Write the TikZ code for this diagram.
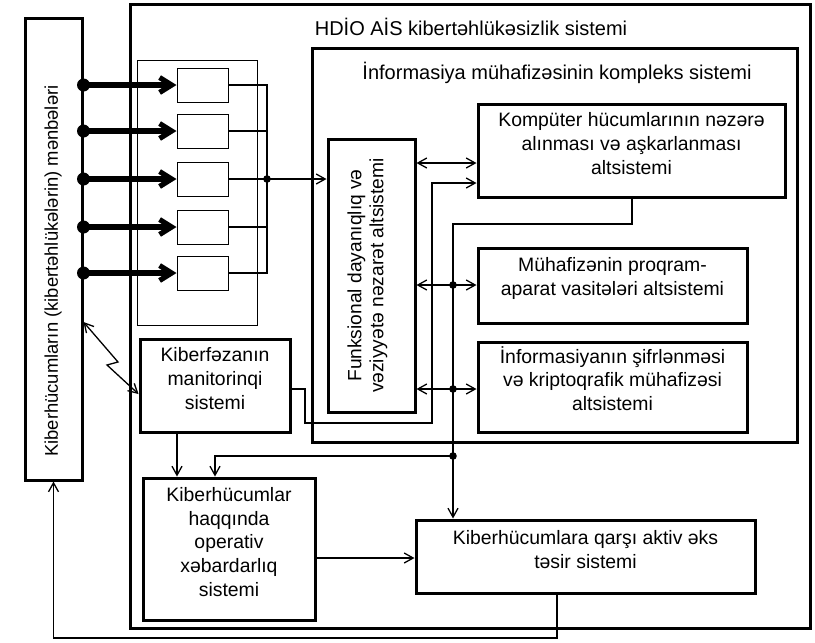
\documentclass[tikz,border=0pt]{standalone}
\usepackage{fontspec}
\setmainfont{Liberation Sans}
\usetikzlibrary{arrows.meta,fit,calc}
\begin{document}
\begin{tikzpicture}[x=0.5pt,y=-0.5pt,
  thickbox/.style={draw, line width=1.5pt, inner sep=0pt, align=center},
  thinbox/.style={draw, line width=0.5pt, inner sep=0pt},
  conn/.style={line width=0.65pt},
  arr/.style={conn, -{Straight Barb[length=4.5pt,width=5pt]}},
  darr/.style={conn, {Straight Barb[length=4.5pt,width=5pt]}-{Straight Barb[length=4.5pt,width=5pt]}},
  fatarr/.style={line width=2.6pt, -{Straight Barb[length=6pt,width=7.5pt]}},
  bigdot/.style={circle, fill, inner sep=0pt, minimum size=6.5pt},
  jdot/.style={circle, fill, inner sep=0pt, minimum size=3.8pt},
  titlefont/.style={font=\fontsize{10}{12}\selectfont},
  font=\fontsize{9.7}{11.8}\selectfont]
\useasboundingbox (0,0) rectangle (815,643);

% boxes
\node[thickbox, fit={(25,18)(82,480)}] (src) {};
\node[rotate=90, font=\fontsize{9.2}{11}\selectfont] at (53,271) {Kiberhücumların (kibertəhlükələrin) mənbələri};
\node[thickbox, fit={(130,4)(810,628)}] (outer) {};
\node[titlefont] at (471,27) {HDİO AİS kibertəhlükəsizlik sistemi};
\node[thinbox, fit={(137,60)(257,325)}] (grp) {};
\foreach \i/\y in {1/85,2/131,3/179,4/227,5/273}
  \node[thinbox, minimum width=25.5pt, minimum height=17pt] (b\i) at (202.5,\y) {};
\node[thickbox, fit={(312,48)(797,442)}] (kompl) {};
\node[titlefont] at (557,73) {İnformasiya mühafizəsinin kompleks sistemi};
\node[thickbox, fit={(328,139)(415,412)}] (funk) {};
\node[rotate=90, align=center, font=\fontsize{9.6}{11}\selectfont] at ($(funk.center)+(-4,0)$) {Funksional dayanıqlıq və\\vəziyyətə nəzarət altsistemi};
\node[thickbox, fit={(478,104)(785,197)}] (kom) {Kompüter hücumlarının nəzərə\\alınması və aşkarlanması\\altsistemi};
\node[thickbox, fit={(478,248)(747,323)}] (muh) {Mühafizənin proqram-\\aparat vasitələri altsistemi};
\node[thickbox, fit={(478,342)(747,432)}] (sif) {İnformasiyanın şifrlənməsi\\və kriptoqrafik mühafizəsi\\altsistemi};
\node[thickbox, fit={(140,339)(290,432)}] (mon) {Kiberfəzanın\\manitorinqi\\sistemi};
\node[thickbox, fit={(143,478)(315,620)}] (hab) {Kiberhücumlar\\haqqında\\operativ\\xəbardarlıq\\sistemi};
\node[thickbox, fit={(416,520)(755,593)}] (akt) {Kiberhücumlara qarşı aktiv əks\\təsir sistemi};

% sources -> small boxes
\foreach \i in {1,...,5} {
  \node[bigdot] (d\i) at (src.east |- b\i) {};
  \draw[fatarr] (d\i.center) -- (b\i.west);
}
\node[jdot] (hub) at (267,179) {};
\draw[conn] (b1.east) -- (b1.east -| hub) -- (b5.east -| hub) -- (b5.east);
\foreach \i in {2,4} \draw[conn] (b\i.east) -- (b\i.east -| hub);
\draw[conn] (b3.east) -- (hub.center);
\draw[arr] (hub.center) -- (funk.west |- hub);

% funk <-> subsystems
\coordinate (ya) at (0,163);
\coordinate (yb) at (0,183);
\draw[darr] (funk.east |- ya) -- (kom.west |- ya);
\node[jdot] (j1) at (453,285) {};
\node[jdot] (j2) at (453,389) {};
\node[jdot] (j3) at (453,456) {};
\draw[darr] (funk.east |- j1) -- (muh.west |- j1);
\draw[darr] (funk.east |- j2) -- (sif.west |- j2);

% kom -> aktiv
\coordinate (kx) at (632,224);
\draw[arr] (kom.south -| kx) -- (kx) -- (kx -| j1) -- (akt.north -| j1);
\coordinate (hx) at (215,456);
\draw[arr] (j3.center) -- (hx) -- (hab.north -| hx);

% monitor
\coordinate (mx) at (177,455);
\draw[arr] (mon.south -| mx) -- (hab.north -| mx);
\coordinate (m1) at (305,389);
\coordinate (m2) at (432,423);
\draw[arr] (mon.east |- m1) -- (m1) -- (m1 |- m2) -- (m2) -- (m2 |- yb) -- (kom.west |- yb);

% hab -> akt
\coordinate (hy) at (0,558);
\draw[arr] (hab.east |- hy) -- (akt.west |- hy);

% feedback
\coordinate (fb) at (557,638);
\draw[arr] (akt.south -| fb) -- (fb) -- (fb -| src) -- (src.south);

% lightning
\coordinate (l0) at (0,322);
\coordinate (z1) at (118,362);
\coordinate (z2) at (107,365);
\coordinate (l1) at (0,394);
\draw[darr] (src.east |- l0) -- (z1) -- (z2) -- (mon.west |- l1);
\end{tikzpicture}
\end{document}
